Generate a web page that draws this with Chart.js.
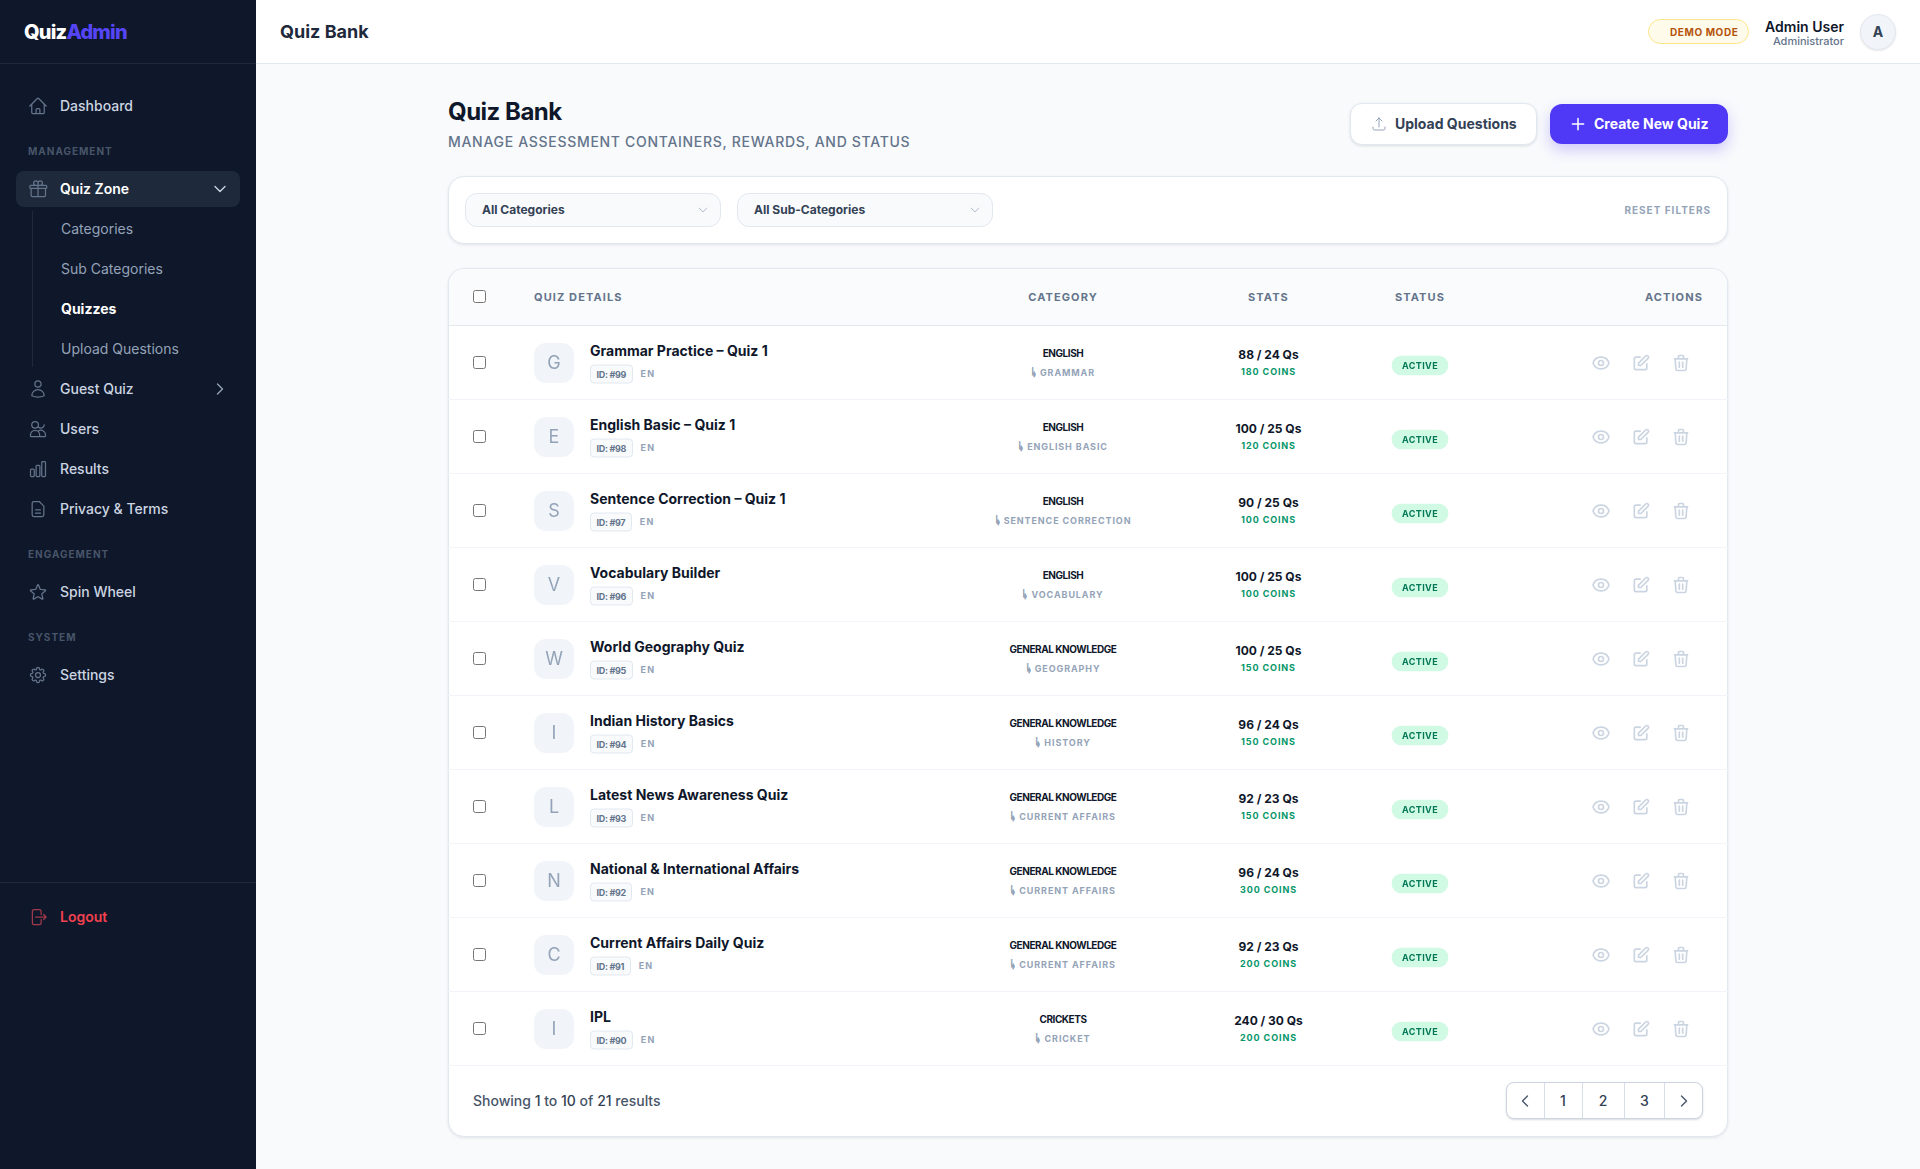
<!DOCTYPE html>
<html lang="en"><head><meta charset="utf-8"><title>Quiz Bank</title>
<script src="https://cdn.jsdelivr.net/npm/chart.js@4"></script>
<style>
*{box-sizing:border-box}
html,body{margin:0;width:1920px;height:1169px;overflow:hidden;background:#f8fafc;font-family:Inter,sans-serif;color:#0f172a}
.t{position:absolute;white-space:nowrap;line-height:1.2;transform:translateY(-50%)}
.c{transform:translate(-50%,-50%)}
.r{transform:translate(-100%,-50%)}
.box{position:absolute}
svg.i{position:absolute;fill:none;stroke:currentColor;stroke-width:1.5;stroke-linecap:round;stroke-linejoin:round;transform:translate(-50%,-50%)}
input[type=checkbox]{position:absolute;margin:0;width:13px;height:13px}
#side{position:absolute;left:0;top:0;width:256px;height:1169px;background:#0f172a}
#top{position:absolute;left:256px;top:0;width:1664px;height:64px;background:#fff;border-bottom:1px solid #e2e8f0}
.card{position:absolute;background:#fff;border:1px solid #e2e8f0;border-radius:16px;box-shadow:0 1px 3px rgba(15,23,42,.1)}
canvas{position:absolute;left:0;top:0}
.arr{display:inline-block;font-family:"Liberation Sans",sans-serif;letter-spacing:0;font-size:13px;line-height:1;width:6px;transform:scaleX(.5);transform-origin:left center;vertical-align:-1px;-webkit-text-stroke:.4px #94a3b8}
</style></head><body>
<div id="side"></div><div id="top"></div>
<div class="card" id="tableCard" style="left:448px;top:268px;width:1280px;height:869px;overflow:hidden"></div>
<div id="over" style="position:absolute;inset:0"></div>
<canvas id="chart" width="1280" height="869" style="left:448px;top:268px;width:1280px;height:869px"></canvas>
<div id="over2" style="position:absolute;inset:0"></div>
<script>
// ---- table data ----
const quizNames=["Grammar Practice – Quiz 1","English Basic – Quiz 1","Sentence Correction – Quiz 1","Vocabulary Builder","World Geography Quiz","Indian History Basics","Latest News Awareness Quiz","National & International Affairs","Current Affairs Daily Quiz","IPL"];
const quizIds=[99,98,97,96,95,94,93,92,91,90];
const languages=["EN","EN","EN","EN","EN","EN","EN","EN","EN","EN"];
const categories=["ENGLISH","ENGLISH","ENGLISH","ENGLISH","GENERAL KNOWLEDGE","GENERAL KNOWLEDGE","GENERAL KNOWLEDGE","GENERAL KNOWLEDGE","GENERAL KNOWLEDGE","CRICKETS"];
const subCategories=["GRAMMAR","ENGLISH BASIC","SENTENCE CORRECTION","VOCABULARY","GEOGRAPHY","HISTORY","CURRENT AFFAIRS","CURRENT AFFAIRS","CURRENT AFFAIRS","CRICKET"];
const totalMarks=[88,100,90,100,100,96,92,96,92,240];
const questionCounts=[24,25,25,25,25,24,23,24,23,30];
const coinRewards=[180,120,100,100,150,150,150,300,200,200];
const statuses=["ACTIVE","ACTIVE","ACTIVE","ACTIVE","ACTIVE","ACTIVE","ACTIVE","ACTIVE","ACTIVE","ACTIVE"];
const tableColumns=["QUIZ DETAILS","CATEGORY","STATS","STATUS","ACTIONS"];
const pageLabels=["1","2","3"];

const P={
home:"M2.25 12l8.954-8.955c.44-.439 1.152-.439 1.591 0L21.75 12M4.5 9.75v10.125c0 .621.504 1.125 1.125 1.125H9.75v-4.875c0-.621.504-1.125 1.125-1.125h2.25c.621 0 1.125.504 1.125 1.125V21h4.125c.621 0 1.125-.504 1.125-1.125V9.75M8.25 21h8.25",
gift:"M21 11.25v8.25a1.5 1.5 0 01-1.5 1.5H5.25a1.5 1.5 0 01-1.5-1.5v-8.25M12 4.875A2.625 2.625 0 109.375 7.5H12m0-2.625V7.5m0-2.625A2.625 2.625 0 1114.625 7.5H12m0 0V21m-8.625-9.75h18c.621 0 1.125-.504 1.125-1.125v-1.5c0-.621-.504-1.125-1.125-1.125h-18c-.621 0-1.125.504-1.125 1.125v1.5c0 .621.504 1.125 1.125 1.125z",
user:"M15.75 6a3.75 3.75 0 11-7.5 0 3.75 3.75 0 017.5 0zM4.501 20.118a7.5 7.5 0 0114.998 0A17.933 17.933 0 0112 21.75c-2.676 0-5.216-.584-7.499-1.632z",
users:"M12.5 7a4 4 0 11-8 0 4 4 0 018 0zM19.5 7a4 4 0 01-7 2.6M3 20.5v-1.5a5.5 5.5 0 0111 0v1.5a.5.5 0 01-.5.5h-10a.5.5 0 01-.5-.5zM14 21h6.5a.5.5 0 00.5-.5V19a5.5 5.5 0 00-8.5-4.6",
chart:"M3 13.125C3 12.504 3.504 12 4.125 12h2.25c.621 0 1.125.504 1.125 1.125v6.75C7.5 20.496 6.996 21 6.375 21h-2.25A1.125 1.125 0 013 19.875v-6.75zM9.75 8.625c0-.621.504-1.125 1.125-1.125h2.25c.621 0 1.125.504 1.125 1.125v11.25c0 .621-.504 1.125-1.125 1.125h-2.25a1.125 1.125 0 01-1.125-1.125V8.625zM16.5 4.125c0-.621.504-1.125 1.125-1.125h2.25C20.496 3 21 3.504 21 4.125v15.75c0 .621-.504 1.125-1.125 1.125h-2.25a1.125 1.125 0 01-1.125-1.125V4.125z",
doc:"M7 3h6.5L19 8.5V19a2 2 0 01-2 2H7a2 2 0 01-2-2V5a2 2 0 012-2zM9 13h6M9 17h6",
star:"M11.48 3.499a.562.562 0 011.04 0l2.125 5.111a.563.563 0 00.475.345l5.518.442c.499.04.701.663.321.988l-4.204 3.602a.563.563 0 00-.182.557l1.285 5.385a.562.562 0 01-.84.61l-4.725-2.885a.562.562 0 00-.586 0L6.982 20.54a.562.562 0 01-.84-.61l1.285-5.386a.562.562 0 00-.182-.557l-4.204-3.602a.563.563 0 01.321-.988l5.518-.442a.563.563 0 00.475-.345L11.48 3.5z",
cog:"M10.343 3.94c.09-.542.56-.94 1.11-.94h1.093c.55 0 1.02.398 1.11.94l.149.894c.07.424.384.764.78.93.398.164.855.142 1.205-.108l.737-.527a1.125 1.125 0 011.45.12l.773.774c.39.389.44 1.002.12 1.45l-.527.737c-.25.35-.272.806-.107 1.204.165.397.505.71.93.78l.893.15c.543.09.94.56.94 1.109v1.094c0 .55-.397 1.02-.94 1.11l-.893.149c-.425.07-.765.383-.93.78-.165.398-.143.854.107 1.204l.527.738c.32.447.269 1.06-.12 1.45l-.774.773a1.125 1.125 0 01-1.449.12l-.738-.527c-.35-.25-.806-.272-1.203-.107-.397.165-.71.505-.781.929l-.149.894c-.09.542-.56.94-1.11.94h-1.094c-.55 0-1.019-.398-1.11-.94l-.148-.894c-.071-.424-.384-.764-.781-.93-.398-.164-.854-.142-1.204.108l-.738.527c-.447.32-1.06.269-1.45-.12l-.773-.774a1.125 1.125 0 01-.12-1.45l.527-.737c.25-.35.273-.806.108-1.204-.165-.397-.505-.71-.93-.78l-.894-.15c-.542-.09-.94-.56-.94-1.109v-1.094c0-.55.398-1.02.94-1.11l.894-.149c.424-.07.765-.383.93-.78.165-.398.143-.854-.107-1.204l-.527-.738a1.125 1.125 0 01.12-1.45l.773-.773a1.125 1.125 0 011.45-.12l.737.527c.35.25.807.272 1.204.107.397-.165.71-.505.78-.929l.15-.894zM15 12a3 3 0 11-6 0 3 3 0 016 0z",
logout:"M15.75 9V5.25A2.25 2.25 0 0013.5 3h-6a2.25 2.25 0 00-2.25 2.25v13.5A2.25 2.25 0 007.5 21h6a2.25 2.25 0 002.25-2.25V15m3 0l3-3m0 0l-3-3m3 3H9",
eye:"M15 12a3 3 0 11-6 0 3 3 0 016 0zM2.458 12C3.732 7.943 7.523 5 12 5c4.478 0 8.268 2.943 9.542 7-1.274 4.057-5.064 7-9.542 7-4.477 0-8.268-2.943-9.542-7z",
edit:"M11 5H6a2 2 0 00-2 2v11a2 2 0 002 2h11a2 2 0 002-2v-5m-1.414-9.414a2 2 0 112.828 2.828L11.828 15H9v-2.828l8.586-8.586z",
trash:"M19 7l-.867 12.142A2 2 0 0116.138 21H7.862a2 2 0 01-1.995-1.858L5 7m5 4v6m4-6v6m1-10V4a1 1 0 00-1-1h-4a1 1 0 00-1 1v3M4 7h16",
upload:"M3 16.5v2.25A2.25 2.25 0 005.25 21h13.5A2.25 2.25 0 0021 18.75V16.5m-13.5-9L12 3m0 0l4.5 4.5M12 3v13.5",
down:"M19.5 8.25l-7.5 7.5-7.5-7.5",right:"M8.25 4.5l7.5 7.5-7.5 7.5",left:"M15.75 19.5L8.25 12l7.5-7.5",plus:"M12 4.5v15m7.5-7.5h-15"};
const over=document.getElementById('over'),over2=document.getElementById('over2');
function T(s,x,y,size,weight,color,o={}){const d=document.createElement('div');d.className='t '+(o.a||'');d.textContent=s;
 d.style.cssText+=`left:${x}px;top:${y}px;font-size:${size}px;font-weight:${weight};color:${color};`+(o.ls!=null?`letter-spacing:${o.ls}px;`:'');(o.to||over).appendChild(d);return d}
function I(n,x,y,size,color,sw){const s=document.createElementNS('http://www.w3.org/2000/svg','svg');s.setAttribute('class','i');s.setAttribute('viewBox','0 0 24 24');s.setAttribute('width',size);s.setAttribute('height',size);
 s.style.left=x+'px';s.style.top=y+'px';s.style.color=color;if(sw)s.style.strokeWidth=sw;const p=document.createElementNS('http://www.w3.org/2000/svg','path');p.setAttribute('d',P[n]);s.appendChild(p);over.appendChild(s);return s}
function B(x,y,w,h,css){const d=document.createElement('div');d.className='box';d.style.cssText=`left:${x}px;top:${y}px;width:${w}px;height:${h}px;`+css;over.appendChild(d);return d}

// ---- sidebar ----
B(0,63,256,1,'background:#1e293b');B(0,882,256,1,'background:#1e293b');
const logo=T('Quiz',24,32,20,800,'#fff',{ls:-.8});const la=document.createElement('span');la.textContent='Admin';la.style.color='#5545f5';logo.appendChild(la);
B(16,171,224,36,'background:#1e293b;border-radius:8px');B(32,211,1,156,'background:#1e293b');
const nav=[["Dashboard",106,"home"],["Quiz Zone",189,"gift"],["Guest Quiz",389,"user"],["Users",429,"users"],["Results",469,"chart"],["Privacy & Terms",509,"doc"],["Spin Wheel",592,"star"],["Settings",675,"cog"]];
nav.forEach(([s,y,ic])=>{const act=s==="Quiz Zone";T(s,60,y,14,act?600:550,act?'#fff':'#cbd5e1');I(ic,38,y,20,'#64748b',1.5)});
I('down',220,189,16,'#cbd5e1',2);I('right',220,389,16,'#94a3b8',2);
[["Categories",229],["Sub Categories",269],["Upload Questions",349]].forEach(([s,y])=>T(s,61,y,14,400,'#94a3b8'));
T('Quizzes',61,309,14,700,'#fff');
[["MANAGEMENT",151],["ENGAGEMENT",554],["SYSTEM",637]].forEach(([s,y])=>T(s,28,y,10,700,'#475569',{ls:1}));
T('Logout',60,917,14,600,'#f1414f');I('logout',38,917,20,'#9f3a4a',1.5);

// ---- top bar ----
T('Quiz Bank',280,32,18,700,'#1e293b');
B(1648,19,101,25,'background:#fffbeb;border:1px solid #fde68a;border-radius:13px');
T('DEMO MODE',1670,31.5,10,700,'#b45309',{ls:.6});
T('Admin User',1844,26.5,14,600,'#0f172a',{a:'r'});T('Administrator',1844,41.5,11,500,'#64748b',{a:'r'});
B(1860,14,36,36,'background:#f1f5f9;border:1px solid #e2e8f0;border-radius:50%;box-shadow:0 1px 2px rgba(15,23,42,.1)');
T('A',1878,32,14,700,'#334155',{a:'c'});

// ---- page head ----
T('Quiz Bank',448,112,24,700,'#0f172a',{ls:-.5});
T('MANAGE ASSESSMENT CONTAINERS, REWARDS, AND STATUS',448,142,14,500,'#64748b',{ls:.7});
B(1350,103,187,42,'background:#fff;border:1px solid #e2e8f0;border-radius:12px;box-shadow:0 1px 3px rgba(15,23,42,.12)');
I('upload',1379,124,16,'#94a3b8',1.5);T('Upload Questions',1395,124,14,700,'#334155');
B(1550,104,178,40,'background:#4f39f6;border-radius:12px;box-shadow:0 6px 14px rgba(79,57,246,.25)');
I('plus',1578,124,18,'#fff',2);T('Create New Quiz',1594,124,14,700,'#fff');

// ---- filters ----
B(448,176,1280,68,'background:#fff;border:1px solid #e2e8f0;border-radius:16px;box-shadow:0 1px 3px rgba(15,23,42,.1)');
[[465,"All Categories"],[737,"All Sub-Categories"]].forEach(([x,s])=>{B(x,193,256,34,'background:#f8fafc;border:1px solid #e2e8f0;border-radius:12px');
 T(s,x+17,209.5,12,700,'#334155');I('down',x+238,210,12,'#94a3b8',1.5)});
T('RESET FILTERS',1711,210,10,700,'#94a3b8',{a:'r',ls:1});

// ---- table (marks drawn by Chart.js; x is px across the card, y is the row category scale) ----
const COL={tileMid:106,pillFrom:944,pillTo:1000};
const HEAD_H=57,FOOT_H=72;
const NUDGE={0:1,1:3.5}; // tiles and pills sit slightly below the row middle
const nudge={id:'nudge',
 beforeDatasetDraw(c,a){c.ctx.save();c.ctx.translate(0,NUDGE[a.index]||0)},
 afterDatasetDraw(c){c.ctx.restore()}};
const chart=new Chart(document.getElementById('chart'),{
 type:'bar',
 data:{labels:quizNames,datasets:[
  {type:'line',label:'Initial',showLine:false,data:quizNames.map(n=>({x:COL.tileMid,y:n})),pointStyle:'rectRounded',pointRadius:23.3,pointHoverRadius:23.3,pointBackgroundColor:'#f1f5f9',pointBorderWidth:0},
  {type:'bar',label:'Status',indexAxis:'y',data:statuses.map(()=>[COL.pillFrom,COL.pillTo]),backgroundColor:statuses.map(s=>s==="ACTIVE"?'#d1fae5':'#e2e8f0'),barThickness:19,borderRadius:9.5,borderSkipped:false}
 ]},
 plugins:[nudge],
 options:{indexAxis:'y',responsive:false,animation:false,devicePixelRatio:1,events:[],
  layout:{autoPadding:false,padding:{top:HEAD_H,bottom:FOOT_H,left:0,right:0}},
  plugins:{legend:{display:false},tooltip:{enabled:false}},
  scales:{
   x:{type:'linear',min:0,max:1280,display:false},
   y:{type:'category',offset:true,border:{display:false},ticks:{display:false},
      grid:{offset:true,drawTicks:false,lineWidth:1,color:c=>(c.index===0||c.index===quizNames.length)?'#e2e8f0':'#f1f5f9'}}
  }}
});

// ---- table text, placed from the chart scales ----
const cardX=448,cardY=268;
B(449,269,1278,56,'background:#fafbfd;border-radius:15px 15px 0 0');
const X={check:473,details:534,cat:1063,stats:1268.5,status:1420,actionsR:1703};
const head=297.5;
function chk(x,y){const c=document.createElement('input');c.type='checkbox';c.style.left=x+'px';c.style.top=y+'px';over.appendChild(c)}
chk(X.check,290);
const hs={size:11,w:700,c:'#64748b',ls:1.1};
T(tableColumns[0],X.details,head,hs.size,hs.w,hs.c,{ls:hs.ls});
T(tableColumns[1],X.cat,head,hs.size,hs.w,hs.c,{ls:hs.ls,a:'c'});
T(tableColumns[2],X.stats,head,hs.size,hs.w,hs.c,{ls:hs.ls,a:'c'});
T(tableColumns[3],X.status,head,hs.size,hs.w,hs.c,{ls:hs.ls,a:'c'});
T(tableColumns[4],X.actionsR,head,hs.size,hs.w,hs.c,{ls:hs.ls,a:'r'});
quizNames.forEach((n,i)=>{
 const y=cardY+chart.scales.y.getPixelForValue(i)+1;
 chk(X.check,y-7);
 T(n[0],cardX+COL.tileMid,y,18,400,'#94a3b8',{a:'c',to:over2});
 T(n,590,y-12,14,700,'#0f172a');
 const id=T('ID: #'+quizIds[i],590,y+10.5,9,700,'#64748b');
 id.style.cssText+='background:#f8fafc;border:1px solid #e2e8f0;border-radius:4px;padding:0 5.5px;height:19px;line-height:17px;letter-spacing:-.3px;';
 const w=id.getBoundingClientRect().width;
 T(languages[i],590+w+8,y+10.5,9,700,'#94a3b8',{ls:1.2});
 T(categories[i],X.cat,y-10,10,700,'#0f172a',{a:'c',ls:-.45});
 const sub=T('',X.cat,y+8.5,9,700,'#94a3b8',{a:'c',ls:.9});
 const ar=document.createElement('span');ar.className='arr';ar.textContent='↳';sub.appendChild(ar);sub.appendChild(document.createTextNode(' '+subCategories[i]));
 T(`${totalMarks[i]} / ${questionCounts[i]} Qs`,X.stats,y-8.5,12,700,'#0f172a',{a:'c'});
 T(`${coinRewards[i]} COINS`,X.stats,y+9,9,700,'#059669',{a:'c',ls:.9});
 T(statuses[i],X.status,y+2.5,9,700,'#047857',{a:'c',ls:.4,to:over2});
 I('eye',1601,y,20,'#cbd5e1',2);I('edit',1641,y,20,'#cbd5e1',2);I('trash',1681,y,20,'#cbd5e1',2);
});

// ---- footer ----
const sh=T('Showing ',473,1101,14,450,'#475569');
[["1",1],[" to ",0],["10",1],[" of ",0],["21",1],[" results",0]].forEach(([s,b])=>{const e=document.createElement('span');e.textContent=s;if(b){e.style.fontWeight=500;e.style.color='#334155'}sh.appendChild(e)});
B(1506,1082,197,37,'background:#fff;border:1px solid #cbd5e1;border-radius:8px;box-shadow:0 1px 2px rgba(15,23,42,.15)');
[1544,1582,1624,1664].forEach(x=>B(x,1083,1,35,'background:#d8dee8'));
I('left',1525,1101,16,'#475569',2);I('right',1684,1101,16,'#475569',2);
[[1563,pageLabels[0]],[1603,pageLabels[1]],[1644.5,pageLabels[2]]].forEach(([x,s])=>T(s,x,1101,14,500,'#334155',{a:'c'}));
</script>
</body></html>
